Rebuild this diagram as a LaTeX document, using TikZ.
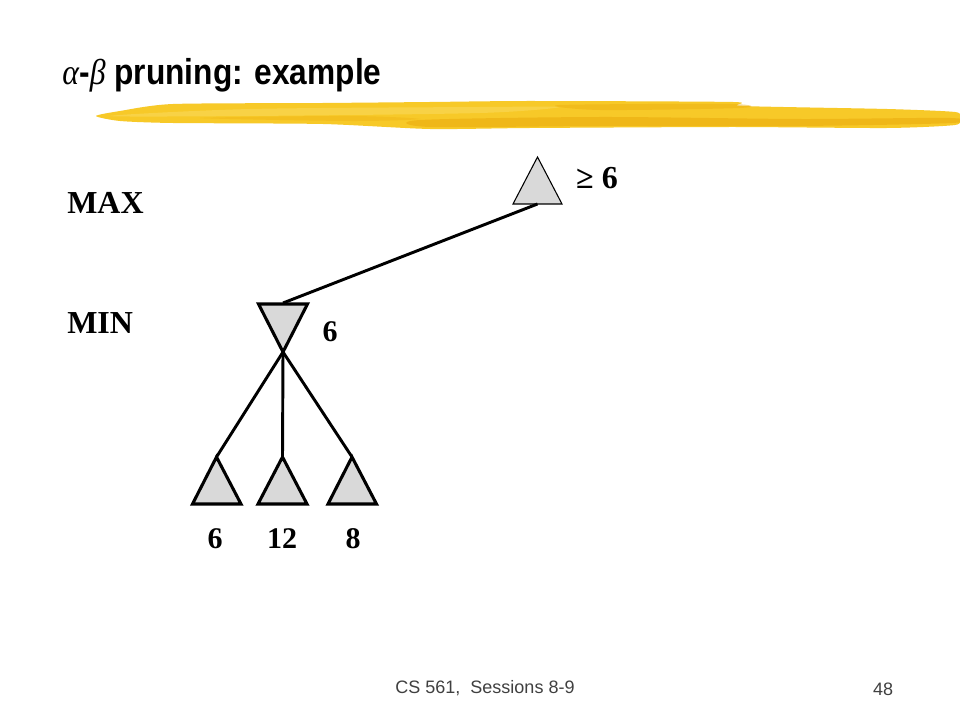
\documentclass[tikz,border=0pt]{standalone}
\usepackage{fontspec}
\setmainfont{Liberation Serif}
\setsansfont{Liberation Sans}
\begin{document}
\begin{tikzpicture}[x=0.75pt,y=-0.75pt,
  tri/.style={fill=nodegray,draw=black,line width=2.3pt,line join=miter},
  thintri/.style={fill=nodegray,draw=black,line width=0.8pt},
  edge/.style={draw=black,line width=2.2pt},
  lbl/.style={font=\fontsize{22.5}{24}\selectfont\bfseries,inner sep=0pt},
  level/.style={font=\fontsize{24}{26}\selectfont\bfseries,inner sep=0pt,anchor=west}]
\definecolor{nodegray}{HTML}{D9D9D9}
\definecolor{brushA}{HTML}{F7C928}
\definecolor{brushB}{HTML}{EDB012}
\definecolor{brushC}{HTML}{FAD95A}
\definecolor{footgray}{HTML}{404040}
\useasboundingbox (0,0) rectangle (960,720);
\fill[white] (0,0) rectangle (960,720);

% yellow brush stroke under the title
\fill[brushA] plot[smooth cycle,tension=0.4] coordinates {
  (96,116) (120,111) (173,104) (323,103) (430,102) (530,101) (733,102) (742,106)
  (887,109) (955,112) (960,118) (955,125) (887,128) (733,127) (530,128) (430,129)
  (323,124) (173,123) (120,121)};
\fill[brushB,opacity=0.7] plot[smooth cycle,tension=0.5] coordinates {
  (420,120) (600,117) (800,119) (950,118) (952,123) (800,126) (600,126) (430,127)};
\fill[brushC,opacity=0.6] plot[smooth cycle,tension=0.5] coordinates {
  (110,116) (250,109) (480,107) (560,107) (480,113) (250,116)};
\fill[brushB,opacity=0.5] plot[smooth cycle,tension=0.5] coordinates {
  (560,105) (730,104) (740,108) (600,110)};
\fill[brushB,opacity=0.4] plot[smooth cycle,tension=0.5] coordinates {
  (200,118) (350,116) (420,119) (350,121)};

% title
\node[anchor=base west,inner sep=0pt] (title) at (62,85)
  {\scalebox{0.88}[1]{\fontsize{27}{29}\selectfont\textit{α}\sffamily\bfseries-\rmfamily\mdseries\textit{β}\sffamily\bfseries\ pruning: example}};

% level labels
\node[level] (maxlbl) at (67,203) {MAX};
\node[level] (minlbl) at (67,323) {MIN};

% root (MAX) node
\coordinate (rootapex) at (537.5,157);
\coordinate (root) at (537.5,204);
\path[thintri] (513,204) -- (rootapex) -- (562,204) -- cycle;
\node[font=\fontsize{24}{26}\selectfont\bfseries,inner sep=0pt] (rootval) at (597,178.5) {≥ 6};

% MIN node
\coordinate (mintop) at (283,303);
\coordinate (minapex) at (283,352);
\path[tri] (258.5,304) -- (307.5,304) -- (minapex) -- cycle;
\node[lbl] (minval) at (330,332) {6};

% leaves
\coordinate (leafA) at (216.5,457);
\coordinate (leafB) at (282.5,457);
\coordinate (leafC) at (352,457);
\path[tri] (leafA) -- (241,504) -- (192.5,504) -- cycle;
\path[tri] (leafB) -- (307,504) -- (258,504) -- cycle;
\path[tri] (leafC) -- (376.5,504) -- (328,504) -- cycle;
\node[lbl] (valA) at (215,539) {6};
\node[lbl] (valB) at (282,539) {12};
\node[lbl] (valC) at (353,539) {8};

% connectors
\draw[edge] (root) -- (mintop);
\draw[edge] (minapex) -- (leafA);
\draw[edge] (minapex) -- (leafB);
\draw[edge] (minapex) -- (leafC);

% footer
\node[font=\sffamily\fontsize{13.5}{15}\selectfont,text=footgray,inner sep=0pt] (foot) at (485,688) {CS 561,\ \ Sessions 8-9};
\node[font=\sffamily\fontsize{13.5}{15}\selectfont,text=footgray,inner sep=0pt] (page) at (883,689) {48};
\end{tikzpicture}
\end{document}
